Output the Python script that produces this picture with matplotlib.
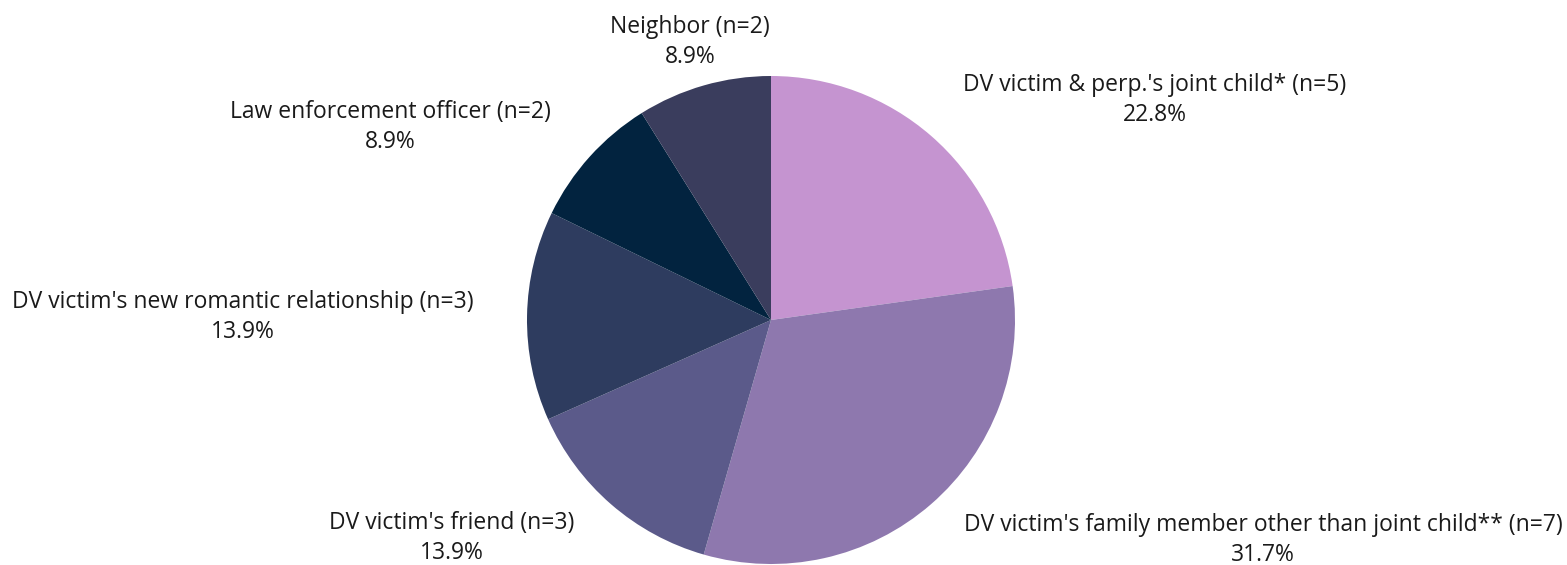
import matplotlib
matplotlib.use("Agg")
import matplotlib.pyplot as plt

# slices, clockwise from 12 o'clock
labels = [
    "DV victim & perp.'s joint child* (n=5)",
    "DV victim's family member other than joint child** (n=7)",
    "DV victim's friend (n=3)",
    "DV victim's new romantic relationship (n=3)",
    "Law enforcement officer (n=2)",
    "Neighbor (n=2)",
]
pct = [22.8, 31.7, 13.9, 13.9, 8.9, 8.9]
colors = ["#C594D0", "#8E78AE", "#5B5A8A", "#2E3C5F", "#02233F", "#3A3D5D"]

# label centres in pixels (x, y of first line from top)
label_pos = [(1155, 85), (1263, 525), (452, 523), (243, 302), (390, 112), (690, 27)]

W, H = 1567, 565
fig = plt.figure(figsize=(W / 100, H / 100), dpi=100)
ax = fig.add_axes([0, 0, 1, 1])

ax.pie(pct, colors=colors, startangle=90, counterclock=False,
       center=(771, H - 320), radius=244,
       wedgeprops=dict(linewidth=0), frame=True)
ax.set_xlim(0, W)
ax.set_ylim(0, H)
ax.set_aspect("equal")
ax.axis("off")

for lbl, p, (x, y) in zip(labels, pct, label_pos):
    ax.text(x, H - y, lbl, ha="center", va="center", fontsize=16.5,
            family="Open Sans", color="#1a1a1a")
    ax.text(x, H - y - 30, f"{p:.1f}%", ha="center", va="center",
            fontsize=16.5, family="Open Sans", color="#1a1a1a")

fig.savefig("out.png", dpi=100, facecolor="white")
